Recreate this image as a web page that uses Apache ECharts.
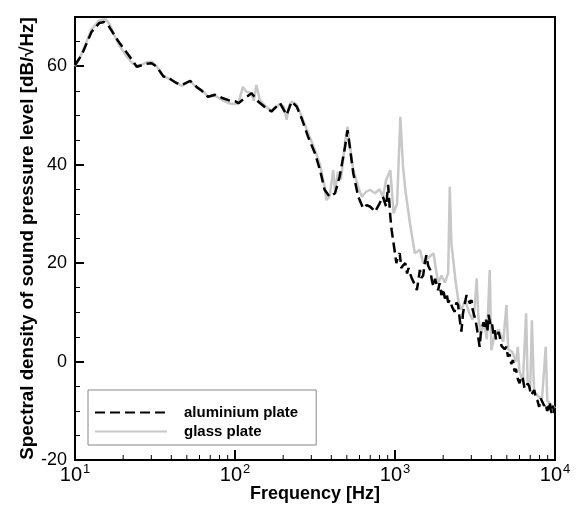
<!DOCTYPE html>
<html>
<head>
<meta charset="utf-8">
<script src="https://cdn.jsdelivr.net/npm/echarts@6/dist/echarts.min.js"></script>
<style>html,body{margin:0;padding:0;background:#fff}#c{width:576px;height:505px}</style>
</head>
<body>
<div id="c"></div>
<script>
// ---- data ----
const alumFreq = [10, 11, 12.7, 14.2, 15.2, 16.2, 17.5, 18.7, 20.5, 22.5, 24.3, 26.1, 28, 30.1, 32.4, 35.7, 38, 40.2, 43, 46.5, 52.5, 57.6, 62, 67.8, 75, 82.5, 91, 100, 105, 115, 127, 140, 158, 169, 191, 210, 226, 243, 261, 286, 316, 340, 363, 390, 422, 451, 487, 505, 522, 549, 589, 633, 665, 697, 725, 750, 800, 840, 880, 906, 935, 953,
  1000, 1020, 1045, 1070, 1095, 1120, 1160, 1190, 1215, 1240, 1270, 1300, 1335, 1370, 1400, 1430, 1465, 1500, 1535, 1570, 1610, 1660, 1700, 1740, 1780, 1820, 1860, 1900, 1950, 2000, 2050, 2100, 2150, 2200, 2280, 2360, 2420, 2480, 2540, 2600, 2660, 2720, 2800, 2870, 2940, 3010, 3060, 3120, 3180, 3240, 3310, 3380, 3440, 3500, 3570, 3640, 3710, 3780, 3840, 3910, 3980, 4050, 4120, 4200, 4280, 4360, 4440, 4520, 4630, 4750, 4850, 4970, 5080, 5200, 5330, 5460, 5580, 5700, 5850, 6000, 6150, 6300, 6450, 6600, 6750, 6900, 7080, 7250, 7420, 7600, 7780, 7960, 8150, 8350, 8550, 8750, 8920, 9100, 9250, 9400, 9550, 9700, 9850, 10000];
const alumLevel = [60.2, 62.3, 67.0, 68.8, 69.0, 68.2, 66.5, 65.0, 63.3, 61.5, 59.9, 60.2, 60.5, 60.6, 59.9, 57.9, 57.8, 57.2, 56.6, 56.2, 57.0, 55.8, 55.0, 53.8, 54.2, 53.6, 53.1, 52.9, 52.5, 53.5, 54.5, 52.8, 51.4, 50.8, 52.5, 50.1, 52.8, 51.8, 49.4, 45.7, 42.3, 38.9, 34.9, 33.5, 34.2, 37.6, 43.6, 47.0, 43.6, 38.2, 33.5, 31.1, 31.8, 31.5, 31.0, 30.4, 32.1, 33.5, 31.5, 35.9, 29.4, 26.7,
  22.0, 20.0, 21.5, 22.0, 19.0, 19.5, 20.0, 17.9, 19.0, 18.0, 17.0, 16.6, 15.5, 14.5, 16.5, 18.6, 17.0, 17.5, 20.0, 21.6, 19.5, 18.6, 16.5, 15.2, 16.8, 16.5, 14.5, 15.9, 13.5, 14.8, 12.8, 13.9, 12.0, 12.5, 11.0, 10.1, 12.0, 11.5, 8.5, 6.1, 9.8, 11.5, 13.5, 13.2, 11.8, 12.5, 10.5, 10.2, 8.5, 7.1, 5.0, 3.0, 5.8, 5.5, 8.0, 7.1, 8.5, 6.0, 9.5, 9.1, 7.0, 7.5, 5.5, 6.4, 4.5, 4.2, 6.0, 5.0, 3.2, 3.5, 2.5, 3.0, 1.0, 1.5, -0.5, 0.3, -2.0, -1.5, -3.5, -4.4, -3.0, -3.5, -5.5, -5.8, -4.5, -5.0, -6.8, -6.5, -5.8, -7.5, -8.0, -9.2, -7.5, -7.8, -9.0, -8.5, -10.0, -9.5, -8.2, -9.8, -10.5, -9.0, -10.0, -11.2];
const glassFreq = [10, 11, 12.7, 14.2, 15.5, 16.5, 17.5, 18.7, 20.5, 22.5, 24.3, 26.1, 28, 30.1, 32.4, 35.7, 40.2, 46.5, 52.5, 57.6, 62, 67.8, 75, 82.5, 91, 100, 105, 112, 118, 127, 131, 136, 143, 158, 169, 191, 202, 210, 218, 226, 243, 261, 286, 316, 340, 363, 372, 390, 411, 422, 440, 460, 487, 505, 522, 549, 589, 620, 660, 697, 750, 800, 840, 880, 935, 980, 1030, 1080, 1120, 1160, 1240, 1330, 1430, 1500, 1600, 1740, 1860, 1950, 2050, 2150, 2200, 2250, 2300, 2400, 2500, 2600, 2750, 2900, 3050, 3150, 3240, 3320, 3450, 3600, 3750, 3910, 4000, 4200, 4450, 4750, 4970, 5100, 5400, 5700, 5850, 6000, 6300, 6600, 6750, 7000, 7170, 7400, 7800, 8300, 8750, 8950, 9300, 9700, 10000];
const glassLevel = [60.0, 62.5, 67.5, 69.3, 69.6, 68.5, 66.5, 64.5, 62.5, 60.8, 60.1, 60.3, 60.8, 60.9, 60.0, 58.0, 57.2, 56.0, 57.0, 55.6, 55.2, 53.8, 54.0, 53.2, 52.5, 52.3, 52.5, 55.8, 54.8, 54.5, 53.0, 56.2, 53.1, 51.6, 51.0, 52.3, 51.8, 49.1, 52.0, 52.8, 52.2, 49.8, 46.5, 43.0, 40.0, 35.5, 32.8, 33.5, 38.9, 34.5, 38.5, 37.0, 44.5, 47.7, 44.0, 38.9, 35.5, 33.5, 34.5, 34.9, 34.2, 35.0, 33.5, 36.9, 38.9, 30.1, 32.0, 49.7, 40.0, 34.9, 28.1, 22.0, 22.7, 20.0, 21.0, 22.0, 15.9, 17.5, 16.0, 18.0, 35.5, 24.0, 21.3, 15.9, 12.0, 10.5, 12.5, 10.0, 8.5, 11.0, 16.9, 9.0, 5.5, 8.0, 4.5, 18.6, 2.3, 5.5, 6.5, 4.0, 11.5, 2.5, 2.0, 0.0, 3.0, -2.0, -4.0, 9.8, -4.5, -5.5, 8.4, -6.0, -7.0, -7.5, 3.0, -8.0, -8.5, -9.0, -9.5];
const seriesNames = ['aluminium plate', 'glass plate'];
const minorTickFreqs = [20, 30, 40, 50, 60, 70, 80, 90, 200, 300, 400, 500, 600, 700, 800, 900, 2000, 3000, 4000, 5000, 6000, 7000, 8000, 9000];
const xTitle = 'Frequency [Hz]';
const yTitle = 'Spectral density of sound pressure level [dB/\u221AHz]';

const zip = (a, b) => a.map((f, i) => [f, b[i]]);
const FONT = '"Liberation Sans", Arial, sans-serif';

const chart = echarts.init(document.getElementById('c'), null, {renderer: 'canvas'});
chart.setOption({
  animation: false,
  backgroundColor: '#fff',
  grid: {left: 75, right: 21, top: 17, bottom: 45, containLabel: false, outerBoundsMode: 'none',
         show: true, borderColor: '#000', borderWidth: 2, backgroundColor: 'transparent'},
  legend: {
    data: seriesNames,
    orient: 'vertical',
    left: 88, top: 390,
    padding: [15, 18, 6, 6],
    itemGap: 4, itemWidth: 72, itemHeight: 16,
    borderColor: '#888', borderWidth: 1, backgroundColor: '#fff',
    itemStyle: {opacity: 0},
    textStyle: {fontFamily: FONT, fontSize: 15, fontWeight: 'bold', color: '#000', padding: [0, 0, 0, 12]}
  },
  xAxis: {
    type: 'log', logBase: 10, min: 10, max: 10000,
    name: xTitle, nameLocation: 'middle', nameGap: 25, nameMoveOverlap: false,
    nameTextStyle: {fontFamily: FONT, fontSize: 18, fontWeight: 'bold', color: '#000', verticalAlign: 'top'},
    axisLine: {onZero: false, lineStyle: {color: '#000', width: 2}},
    axisTick: {inside: true, length: 10, lineStyle: {color: '#000', width: 2}},
    splitLine: {show: false},
    axisLabel: {
      margin: 3, color: '#000',
      formatter: v => '{b|10}{s|' + Math.round(Math.log10(v)) + '}',
      rich: {
        b: {fontFamily: FONT, fontSize: 20, color: '#000', lineHeight: 22, verticalAlign: 'bottom'},
        s: {fontFamily: FONT, fontSize: 13, color: '#000', lineHeight: 22, verticalAlign: 'top', padding: [0, 0, 0, 1]}
      }
    }
  },
  yAxis: {
    type: 'value', min: -20, max: 70, interval: 20,
    name: yTitle, nameLocation: 'middle', nameGap: 47, nameRotate: 90, nameMoveOverlap: false,
    nameTextStyle: {fontFamily: FONT, fontSize: 18.8, fontWeight: 'bold', color: '#000', verticalAlign: 'middle'},
    axisLine: {show: true, onZero: false, lineStyle: {color: '#000', width: 2}},
    axisTick: {show: true, inside: true, length: 9, lineStyle: {color: '#000', width: 2}},
    minorTick: {show: true, splitNumber: 4, length: 5, lineStyle: {color: '#000', width: 1}},
    splitLine: {show: false},
    axisLabel: {margin: 8, fontFamily: FONT, fontSize: 18, color: '#000', showMaxLabel: false}
  },
  series: [
    {
      name: seriesNames[1], type: 'line', data: zip(glassFreq, glassLevel),
      showSymbol: false, symbol: 'none', z: 2,
      lineStyle: {color: '#c8c8c8', width: 2.5}, itemStyle: {color: '#c8c8c8'}
    },
    {
      name: seriesNames[0], type: 'line', data: zip(alumFreq, alumLevel),
      showSymbol: false, symbol: 'none', z: 3,
      lineStyle: {color: '#000', width: 2.5, type: [10, 5]}, itemStyle: {color: '#000'}
    },
    {
      type: 'custom', silent: true, z: 4,
      data: minorTickFreqs.map(f => [f]),
      encode: {x: 0},
      renderItem: (params, api) => {
        const p = api.coord([api.value(0), -20]);
        return {type: 'line', shape: {x1: p[0], y1: p[1], x2: p[0], y2: p[1] - 5}, style: {stroke: '#000', lineWidth: 1}};
      }
    }
  ]
});
</script>
</body>
</html>
